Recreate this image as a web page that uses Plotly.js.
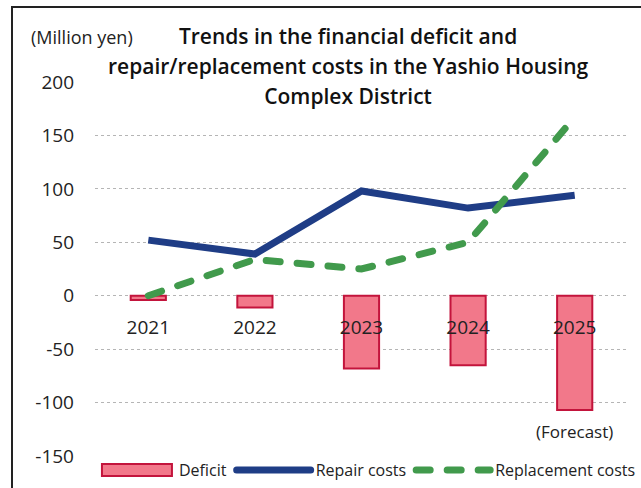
<!DOCTYPE html>
<html>
<head>
<meta charset="utf-8">
<script src="https://cdn.plot.ly/plotly-3.0.1.min.js"></script>
<style>
  html, body { margin: 0; padding: 0; background: #fff; }
  #wrap { position: relative; width: 641px; height: 488px; overflow: hidden; }
  #frame { position: absolute; left: 11px; top: 6px; right: -5px; bottom: -5px;
           border-left: 2px solid #222; border-top: 2px solid #222; pointer-events: none; }
  #chart { position: absolute; left: 0; top: 0; width: 641px; height: 488px; }
  .scatterlayer .trace:nth-child(2) path.js-line { stroke-linecap: round; }
  .legend path.js-line { stroke-linecap: round; }
</style>
</head>
<body>
<div id="wrap">
  <div id="chart"></div>
  <div id="frame"></div>
</div>
<script>
const years = ['2021', '2022', '2023', '2024', '2025'];
const deficit = [-4, -11, -68, -65, -107];
const repairCosts = [52, 39, 98, 82, 94];
const replacementCosts = [0, 34, 25, 50, 167];
const yTicks = [-150, -100, -50, 0, 50, 100, 150, 200];

const traces = [
  {
    type: 'bar', name: 'Deficit', x: years, y: deficit, width: 0.33,
    marker: { color: '#f2788a', line: { color: '#c3143c', width: 2 } }
  },
  {
    type: 'scatter', mode: 'lines', name: 'Repair costs', x: years, y: repairCosts,
    line: { color: '#1f3d86', width: 7 }
  },
  {
    type: 'scatter', mode: 'lines', name: 'Replacement costs', x: years, y: replacementCosts,
    line: { color: '#419a4c', width: 7, dash: '14px,17px' }
  }
];

const font = 'Open Sans, Noto Sans, sans-serif';

const layout = {
  width: 641, height: 488,
  margin: { l: 95, r: 13, t: 82, b: 32, autoexpand: false },
  paper_bgcolor: 'rgba(0,0,0,0)', plot_bgcolor: 'rgba(0,0,0,0)',
  font: { family: font, size: 18, color: '#222' },
  showlegend: true,
  title: {
    text: '<span style="font-size:21px">Trends in the financial deficit and</span><br>' +
          '<span style="font-size:21px">repair/replacement costs in the Yashio Housing</span><br>' +
          '<span style="font-size:21px">Complex District</span>',
    font: { family: font, size: 23, color: '#111', weight: 600 },
    x: 0.543, xanchor: 'center', xref: 'container',
    y: 1 - 44 / 488, yanchor: 'top', yref: 'container'
  },
  xaxis: {
    type: 'category', anchor: 'free', position: 150 / 350,
    showline: false, ticks: '', showgrid: false, zeroline: false,
    ticklabelstandoff: 18,
    tickfont: { family: font, size: 19, color: '#222' }
  },
  yaxis: {
    range: [-150, 200], tickvals: yTicks, ticktext: yTicks.map(String),
    showline: false, ticks: '', zeroline: false,
    showgrid: true, gridcolor: '#b5b5b5', gridwidth: 1, griddash: 'dot',
    ticklabelstandoff: 20,
    tickfont: { family: font, size: 19, color: '#222' }
  },
  legend: {
    orientation: 'h', x: -0.0001, xanchor: 'left', y: (456 - 470) / 374, yanchor: 'middle',
    itemwidth: 74, font: { family: font, size: 16, color: '#222' },
    tracegroupgap: 0, traceorder: 'normal', bgcolor: 'rgba(0,0,0,0)'
  },
  annotations: [
    {
      text: '(Million yen)', xref: 'paper', yref: 'paper',
      x: (29 - 95) / 533, y: (456 - 37) / 374, xanchor: 'left', yanchor: 'middle',
      showarrow: false, font: { family: font, size: 18, color: '#222' }
    },
    {
      text: '(Forecast)', xref: 'x', yref: 'y', x: years.length - 1, y: -127,
      xanchor: 'center', yanchor: 'middle', showarrow: false,
      font: { family: font, size: 17, color: '#222' }
    }
  ]
};

function widenLegendBar() {
  document.querySelectorAll('.legend .legendpoints path').forEach(function (p) {
    if ((p.getAttribute('class') || '').indexOf('legendbar') >= 0 ||
        (p.getAttribute('d') || '') === 'M6,6H-6V-6H6Z') {
      p.setAttribute('d', 'M35,6H-35V-6H35Z');
    }
  });
}

Plotly.newPlot('chart', traces, layout, { displayModeBar: false, staticPlot: true }).then(function () {
  widenLegendBar();
  setTimeout(widenLegendBar, 50);
  setTimeout(widenLegendBar, 300);
});
</script>
</body>
</html>
